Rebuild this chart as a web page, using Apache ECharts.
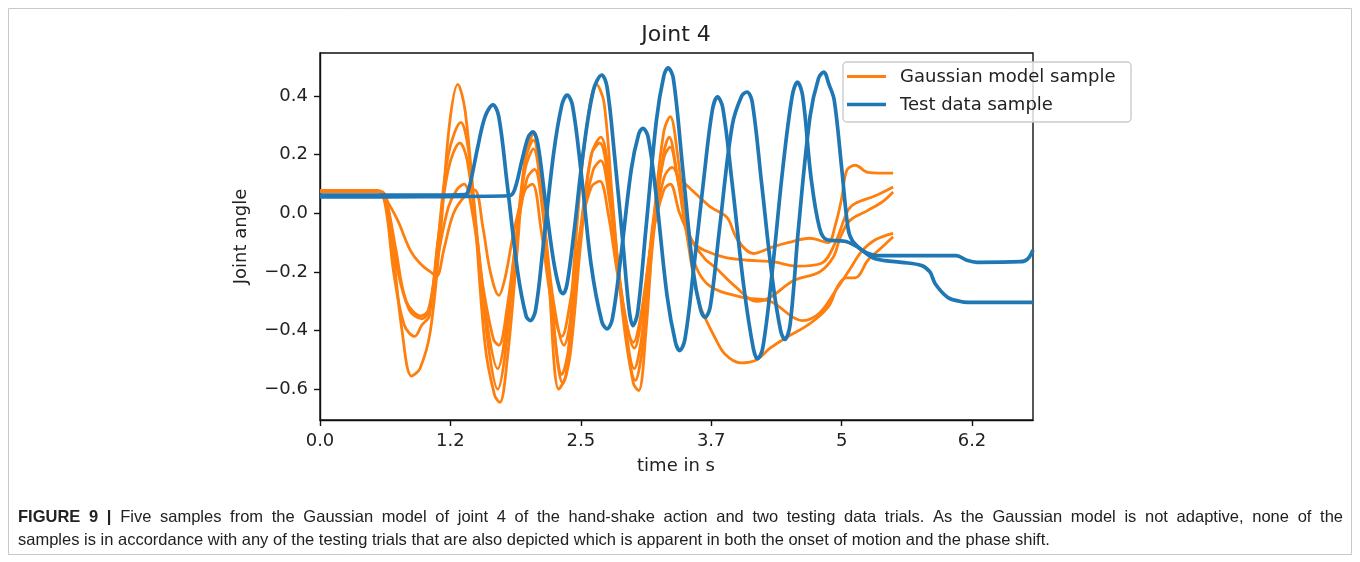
<!DOCTYPE html>
<html>
<head>
<meta charset="utf-8">
<script src="https://cdn.jsdelivr.net/npm/echarts@6/dist/echarts.min.js"></script>
<style>
html,body{margin:0;padding:0;background:#fff;}
#chart{width:1360px;height:562px;}
</style>
</head>
<body>
<div id="chart"></div>
<script>
// ---- tick labels ----
const xTickValues = [0, 1.24, 2.48, 3.72, 4.96, 6.2];
const xTickLabels = ["0.0", "1.2", "2.5", "3.7", "5", "6.2"];
const yTickValues = [-0.6, -0.4, -0.2, 0, 0.2, 0.4];
const yTickLabels = ["\u22120.6", "\u22120.4", "\u22120.2", "0.0", "0.2", "0.4"];

// ---- series names ----
const gaussName = "Gaussian model sample";
const testName = "Test data sample";

// ---- Gaussian model samples (time s, joint angle) ----
const gauss1 = [[0,0.075],[0.58,0.075],[0.65,0.035],[0.74,-0.025],[0.86,-0.127],[0.95,-0.17],[1.07,-0.205],[1.11,-0.215],[1.18,-0.12],[1.27,0.0],[1.38,0.06],[1.47,0.08],[1.55,-0.05],[1.62,-0.2],[1.70,-0.28],[1.76,-0.22],[1.85,-0.05],[1.95,0.08],[2.02,0.10],[2.10,-0.05],[2.20,-0.30],[2.30,-0.42],[2.38,-0.30],[2.48,-0.05],[2.58,0.09],[2.66,0.11],[2.74,0.0],[2.85,-0.25],[2.98,-0.44],[3.05,-0.35],[3.15,-0.10],[3.27,0.12],[3.35,0.157],[3.42,0.12],[3.61,0.055],[3.72,0.02],[3.87,-0.014],[3.97,-0.09],[4.12,-0.137],[4.30,-0.115],[4.45,-0.10],[4.66,-0.085],[4.83,-0.10],[4.90,-0.04],[4.96,0.05],[5.01,0.147],[5.09,0.164],[5.21,0.14],[5.45,0.137]];
const gauss2 = [[0,0.075],[0.55,0.075],[0.63,0.04],[0.72,-0.12],[0.82,-0.30],[0.96,-0.35],[1.03,-0.33],[1.12,-0.15],[1.22,0.02],[1.30,0.08],[1.37,0.10],[1.45,0.0],[1.55,-0.25],[1.65,-0.43],[1.70,-0.45],[1.78,-0.32],[1.88,-0.05],[1.97,0.12],[2.04,0.15],[2.12,0.0],[2.22,-0.30],[2.32,-0.45],[2.40,-0.32],[2.50,-0.02],[2.60,0.15],[2.67,0.18],[2.75,0.05],[2.87,-0.28],[2.99,-0.46],[3.06,-0.35],[3.16,-0.08],[3.27,0.08],[3.33,0.10],[3.42,0.0],[3.55,-0.10],[3.66,-0.127],[3.85,-0.15],[4.07,-0.16],[4.30,-0.165],[4.54,-0.18],[4.77,-0.17],[4.90,-0.10],[5.02,0.01],[5.09,0.034],[5.28,0.06],[5.45,0.09]];
const gauss3 = [[0,0.075],[0.56,0.075],[0.64,0.03],[0.73,-0.18],[0.85,-0.33],[0.97,-0.36],[1.04,-0.33],[1.12,-0.10],[1.22,0.15],[1.33,0.24],[1.40,0.18],[1.50,-0.10],[1.60,-0.40],[1.69,-0.53],[1.76,-0.42],[1.86,-0.10],[1.95,0.15],[2.03,0.22],[2.10,0.08],[2.20,-0.30],[2.30,-0.55],[2.37,-0.45],[2.47,-0.08],[2.58,0.20],[2.66,0.24],[2.74,0.12],[2.86,-0.25],[2.99,-0.53],[3.06,-0.42],[3.16,-0.05],[3.27,0.19],[3.33,0.226],[3.40,0.12],[3.52,-0.08],[3.66,-0.155],[3.76,-0.185],[3.95,-0.25],[4.15,-0.30],[4.28,-0.287],[4.50,-0.23],[4.75,-0.20],[4.88,-0.15],[4.95,-0.08],[5.04,-0.024],[5.21,0.01],[5.35,0.04],[5.45,0.073]];
const gauss4 = [[0,0.075],[0.55,0.075],[0.62,0.03],[0.70,-0.20],[0.80,-0.38],[0.90,-0.42],[0.97,-0.38],[1.04,-0.35],[1.12,-0.10],[1.22,0.20],[1.34,0.31],[1.41,0.22],[1.50,-0.10],[1.60,-0.45],[1.69,-0.60],[1.76,-0.48],[1.86,-0.12],[1.95,0.18],[2.03,0.25],[2.10,0.10],[2.20,-0.30],[2.31,-0.58],[2.38,-0.48],[2.48,-0.10],[2.58,0.20],[2.67,0.26],[2.75,0.12],[2.87,-0.30],[3.00,-0.57],[3.07,-0.45],[3.17,-0.08],[3.27,0.21],[3.32,0.26],[3.40,0.12],[3.52,-0.12],[3.68,-0.24],[4.02,-0.287],[4.28,-0.30],[4.50,-0.355],[4.59,-0.366],[4.75,-0.34],[4.91,-0.26],[5.04,-0.19],[5.15,-0.13],[5.28,-0.09],[5.45,-0.068]];
const gauss5 = [[0,0.078],[0.55,0.078],[0.62,0.05],[0.70,-0.15],[0.78,-0.40],[0.87,-0.555],[0.95,-0.53],[1.05,-0.40],[1.15,-0.05],[1.23,0.30],[1.31,0.44],[1.38,0.35],[1.47,0.00],[1.57,-0.45],[1.66,-0.62],[1.71,-0.645],[1.78,-0.50],[1.87,-0.15],[1.95,0.18],[2.03,0.27],[2.10,0.12],[2.18,-0.25],[2.27,-0.60],[2.34,-0.55],[2.42,-0.15],[2.52,0.25],[2.63,0.44],[2.70,0.38],[2.78,0.05],[2.88,-0.35],[2.98,-0.58],[3.03,-0.605],[3.10,-0.40],[3.18,0.00],[3.27,0.28],[3.33,0.33],[3.40,0.20],[3.50,-0.10],[3.60,-0.30],[3.66,-0.355],[3.75,-0.42],[3.85,-0.48],[4.00,-0.51],[4.15,-0.50],[4.28,-0.46],[4.45,-0.42],[4.60,-0.39],[4.75,-0.35],[4.85,-0.31],[4.92,-0.25],[5.00,-0.22],[5.09,-0.22],[5.21,-0.16],[5.33,-0.12],[5.45,-0.08]];

// ---- Test data trials ----
const test1 = [[0,0.062],[1.0,0.062],[1.38,0.064],[1.42,0.09],[1.50,0.226],[1.57,0.33],[1.645,0.37],[1.70,0.33],[1.78,0.10],[1.88,-0.20],[1.96,-0.35],[2.0,-0.366],[2.05,-0.33],[2.12,-0.12],[2.22,0.20],[2.30,0.37],[2.35,0.403],[2.40,0.37],[2.48,0.15],[2.58,-0.18],[2.68,-0.37],[2.73,-0.394],[2.78,-0.36],[2.86,-0.15],[2.96,0.15],[3.03,0.27],[3.07,0.29],[3.12,0.26],[3.20,0.05],[3.30,-0.28],[3.38,-0.44],[3.42,-0.468],[3.47,-0.43],[3.55,-0.20],[3.65,0.12],[3.73,0.35],[3.78,0.397],[3.83,0.36],[3.92,0.10],[4.03,-0.25],[4.12,-0.46],[4.16,-0.496],[4.21,-0.46],[4.30,-0.20],[4.40,0.15],[4.49,0.40],[4.54,0.448],[4.59,0.40],[4.67,0.12],[4.75,-0.05],[4.82,-0.09],[4.99,-0.095],[5.09,-0.11],[5.20,-0.135],[5.30,-0.144],[6.05,-0.144],[6.15,-0.16],[6.25,-0.167],[6.66,-0.165],[6.73,-0.155],[6.78,-0.125]];
const test2 = [[0,0.056],[1.0,0.057],[1.80,0.06],[1.85,0.08],[1.92,0.18],[1.98,0.26],[2.025,0.278],[2.07,0.24],[2.14,0.05],[2.22,-0.16],[2.28,-0.26],[2.31,-0.274],[2.35,-0.24],[2.42,-0.05],[2.50,0.20],[2.60,0.42],[2.68,0.472],[2.73,0.43],[2.80,0.20],[2.88,-0.10],[2.94,-0.33],[2.975,-0.383],[3.02,-0.34],[3.10,-0.05],[3.20,0.32],[3.27,0.47],[3.31,0.496],[3.36,0.46],[3.45,0.15],[3.55,-0.20],[3.62,-0.33],[3.66,-0.355],[3.71,-0.32],[3.80,-0.05],[3.92,0.30],[4.01,0.40],[4.06,0.414],[4.11,0.38],[4.20,0.10],[4.30,-0.22],[4.38,-0.40],[4.42,-0.43],[4.47,-0.38],[4.55,-0.05],[4.66,0.33],[4.74,0.46],[4.79,0.482],[4.84,0.44],[4.89,0.386],[4.96,0.157],[5.02,-0.048],[5.06,-0.092],[5.15,-0.125],[5.28,-0.155],[5.53,-0.167],[5.72,-0.178],[5.80,-0.20],[5.85,-0.24],[5.97,-0.287],[6.08,-0.30],[6.16,-0.304],[6.78,-0.304]];

const gaussSeries = [gauss1, gauss2, gauss3, gauss4, gauss5];
const testSeries = [test1, test2];

// ---- caption ----
const captionLabel = 'FIGURE 9 |';
const caption1 = 'Five samples from the Gaussian model of joint 4 of the hand-shake action and two testing data trials. As the Gaussian model is not adaptive, none of the';
const caption2 = 'samples is in accordance with any of the testing trials that are also depicted which is apparent in both the onset of motion and the phase shift.';

const ORANGE = '#ff7f0e';
const BLUE = '#1f77b4';
const FONT = 'DejaVu Sans';
const CAP_SIZE = 16.5;
const CAP_FONT = CAP_SIZE + 'px "Liberation Sans"';
const CAP_BOLD = 'bold ' + CAP_SIZE + 'px "Liberation Sans"';

// justified first caption line: compute space width so line spans 18 -> 1343
function justifiedLine() {
  const ctx = document.createElement('canvas').getContext('2d');
  const boldWords = captionLabel.split(' ');
  const normWords = caption1.split(' ');
  let w = 0;
  ctx.font = CAP_BOLD;
  boldWords.forEach(s => w += ctx.measureText(s).width);
  ctx.font = CAP_FONT;
  normWords.forEach(s => w += ctx.measureText(s).width);
  const nSpaces = boldWords.length + normWords.length - 1;
  const spaceW = Math.max(3, (1343 - 18 - w) / nSpaces);
  const parts = boldWords.map(s => '{b|' + s + '}').concat(normWords.map(s => '{n|' + s + '}'));
  return {text: parts.join('{s| }'), spaceW: spaceW};
}
const just = justifiedLine();

const chart = echarts.init(document.getElementById('chart'), null, {renderer: 'canvas'});

const series = [];
gaussSeries.forEach(d => series.push({
  name: gaussName, type: 'line', data: d, showSymbol: false, smooth: 0.35,
  lineStyle: {color: ORANGE, width: 2.8}, itemStyle: {color: ORANGE}, z: 2, silent: true
}));
testSeries.forEach(d => series.push({
  name: testName, type: 'line', data: d, showSymbol: false, smooth: 0.35,
  lineStyle: {color: BLUE, width: 3.7}, itemStyle: {color: BLUE}, z: 3, silent: true
}));

const option = {
  animation: false,
  backgroundColor: '#fff',
  grid: {left: 320, top: 53, width: 713, height: 367, show: true, borderColor: '#111', borderWidth: 1.4, containLabel: false},
  xAxis: {
    type: 'value', min: 0, max: 6.78,
    axisLine: {show: true, onZero: false, lineStyle: {color: '#111', width: 1.4}},
    axisTick: {show: true, length: 6, lineStyle: {color: '#111', width: 1.4}, customValues: xTickValues},
    axisLabel: {customValues: xTickValues, margin: 12, color: '#222', fontFamily: FONT, fontSize: 18,
      formatter: v => { const i = xTickValues.findIndex(t => Math.abs(t - v) < 1e-6); return i >= 0 ? xTickLabels[i] : ''; }},
    splitLine: {show: false}
  },
  yAxis: {
    type: 'value', min: -0.705, max: 0.547,
    axisLine: {show: true, onZero: false, lineStyle: {color: '#111', width: 1.4}},
    axisTick: {show: true, length: 6, lineStyle: {color: '#111', width: 1.4}, customValues: yTickValues},
    axisLabel: {customValues: yTickValues, margin: 12, color: '#222', fontFamily: FONT, fontSize: 18,
      formatter: v => { const i = yTickValues.findIndex(t => Math.abs(t - v) < 1e-6); return i >= 0 ? yTickLabels[i] : ''; }},
    splitLine: {show: false}
  },
  series: series,
  graphic: [
    {type: 'rect', z: 0, silent: true, shape: {x: 8.5, y: 8.5, width: 1343, height: 546}, style: {fill: 'none', stroke: '#c9c9c9', lineWidth: 1}},
    {type: 'text', z: 50, x: 676, y: 35, style: {text: 'Joint 4', font: '22px "DejaVu Sans"', fill: '#222', align: 'center', verticalAlign: 'middle'}},
    {type: 'text', z: 50, x: 676, y: 466, style: {text: 'time in s', font: '18px "DejaVu Sans"', fill: '#222', align: 'center', verticalAlign: 'middle'}},
    {type: 'text', z: 50, x: 241, y: 236.5, rotation: Math.PI / 2, style: {text: 'Joint angle', font: '18px "DejaVu Sans"', fill: '#222', align: 'center', verticalAlign: 'middle'}},
    // legend
    {type: 'rect', z: 60, silent: true, shape: {x: 843, y: 62, width: 288, height: 60, r: 4}, style: {fill: 'rgba(255,255,255,0.8)', stroke: '#cccccc', lineWidth: 1.4}},
    {type: 'line', z: 61, silent: true, shape: {x1: 847, y1: 76.5, x2: 886, y2: 76.5}, style: {stroke: ORANGE, lineWidth: 2.8}},
    {type: 'line', z: 61, silent: true, shape: {x1: 847, y1: 104.5, x2: 886, y2: 104.5}, style: {stroke: BLUE, lineWidth: 3.7}},
    {type: 'text', z: 61, x: 900, y: 77, style: {text: gaussName, font: '18px "DejaVu Sans"', fill: '#222', align: 'left', verticalAlign: 'middle'}},
    {type: 'text', z: 61, x: 900, y: 105, style: {text: testName, font: '18px "DejaVu Sans"', fill: '#222', align: 'left', verticalAlign: 'middle'}},
    // caption
    {type: 'text', z: 50, x: 18, y: 517, style: {
      text: just.text, verticalAlign: 'middle', align: 'left', fill: '#222', font: CAP_FONT,
      rich: {
        b: {fontWeight: 'bold', fontFamily: 'Liberation Sans', fontSize: CAP_SIZE, fill: '#222'},
        n: {fontFamily: 'Liberation Sans', fontSize: CAP_SIZE, fill: '#222'},
        s: {fontFamily: 'Liberation Sans', fontSize: CAP_SIZE, width: just.spaceW}
      }
    }},
    {type: 'text', z: 50, x: 18, y: 540, style: {text: caption2, verticalAlign: 'middle', align: 'left', fill: '#222', font: CAP_FONT}}
  ]
};
chart.setOption(option);
</script>
</body>
</html>
